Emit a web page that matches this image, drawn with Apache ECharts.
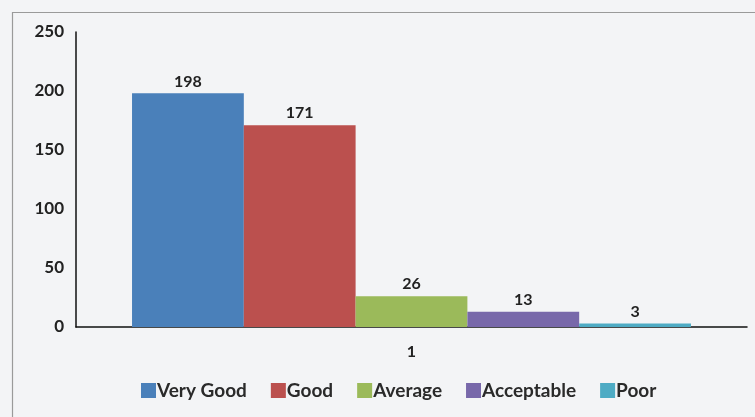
<!DOCTYPE html>
<html><head><meta charset="utf-8">
<script src="https://cdn.jsdelivr.net/npm/echarts@6/dist/echarts.min.js"></script>
<style>html,body{margin:0;padding:0;background:#f3f4f6;}#c{width:755px;height:417px;}</style>
</head><body><div id="c"></div>
<script>
const categories = ['1'];
const seriesNames = ['Very Good', 'Good', 'Average', 'Acceptable', 'Poor'];
const seriesValues = [[198], [171], [26], [13], [3]];
const colors = ['#4a80ba', '#bb504e', '#9bba5a', '#7868aa', '#4eabc4'];
const yTicks = { min: 0, max: 250, interval: 50 };

const chart = echarts.init(document.getElementById('c'));
const font = 'Lato, "Open Sans", sans-serif';
chart.setOption({
  backgroundColor: '#f3f4f6',
  animation: false,
  graphic: [{ type: 'rect', shape: { x: 12.5, y: 12.5, width: 760, height: 420 }, style: { fill: 'none', stroke: '#9a9a9a', lineWidth: 1.2 } }],
  grid: { left: 76, right: 8, top: 32, bottom: 90 },
  legend: {
    bottom: 12, left: 136, itemWidth: 15, itemHeight: 15, itemGap: 24,
    icon: 'rect',
    textStyle: { fontFamily: font, fontSize: 19, fontWeight: 'bold', color: '#2a2a2a', padding: [0, 0, 0, -4] },
    data: seriesNames
  },
  xAxis: {
    type: 'category', data: categories,
    axisLine: { lineStyle: { color: '#111', width: 1.5 } },
    axisTick: { show: false },
    axisLabel: { fontFamily: font, fontSize: 16, fontWeight: 'bold', color: '#222', margin: 17 }
  },
  yAxis: {
    type: 'value', min: yTicks.min, max: yTicks.max, interval: yTicks.interval,
    splitLine: { show: false },
    axisLine: { show: true, lineStyle: { color: '#111', width: 1.5 } },
    axisTick: { show: false },
    axisLabel: { fontFamily: font, fontSize: 17, fontWeight: 'bold', color: '#222', margin: 12 }
  },
  series: seriesNames.map((n, i) => ({
    name: n, type: 'bar', data: seriesValues[i],
    barGap: '0%', barCategoryGap: '16.7%',
    itemStyle: { color: colors[i] },
    label: { show: true, position: 'top', fontFamily: font, fontSize: 16, fontWeight: 'bold', color: '#222', distance: 4 }
  }))
});
</script></body></html>
